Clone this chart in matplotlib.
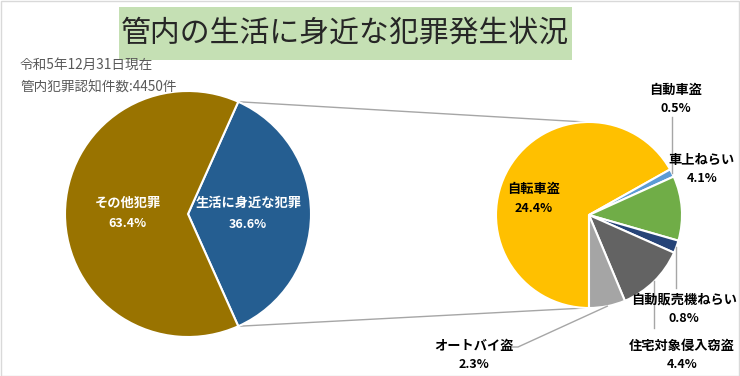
import matplotlib.pyplot as plt
from matplotlib.patches import Rectangle
import numpy as np

plt.rcParams['font.family'] = ['Noto Sans CJK JP', 'DejaVu Sans']

main_labels = ['生活に身近な犯罪', 'その他犯罪']
main_values = [36.6, 63.4]
main_colors = ['#255E91', '#997300']

sub_labels = ['自転車盗', '自動車盗', '車上ねらい', '自動販売機ねらい', '住宅対象侵入窃盗', 'オートバイ盗']
sub_values = [24.4, 0.5, 4.1, 0.8, 4.4, 2.3]
sub_colors = ['#FFC000', '#5B9BD5', '#70AD47', '#264478', '#636363', '#A5A5A5']

title = '管内の生活に身近な犯罪発生状況'
note1 = '令和5年12月31日現在'
note2 = '管内犯罪認知件数:4450件'

W, H = 740, 376
fig = plt.figure(figsize=(W / 100, H / 100), dpi=100)
ax = fig.add_axes([0, 0, 1, 1])


def Y(py):
    # pixel row -> data y (y upward)
    return H - py


c1 = (188, Y(214))
r1 = 123
c2 = (589, Y(215))
r2 = 93
wp = dict(edgecolor='white', linewidth=1.5)

# left pie, "生活に身近な犯罪" centred on the right side
half = main_values[0] / sum(main_values) * 360 / 2
w1, _ = ax.pie(main_values, colors=main_colors, startangle=half, counterclock=False,
               center=c1, radius=r1, wedgeprops=wp)
# right pie
w2, _ = ax.pie(sub_values, colors=sub_colors, startangle=270, counterclock=False,
               center=c2, radius=r2, wedgeprops=wp)

# connecting lines
for ang, ty in [(half, c2[1] + r2), (-half, c2[1] - r2)]:
    a = np.deg2rad(ang)
    ax.plot([c1[0] + r1 * np.cos(a), c2[0] - 4], [c1[1] + r1 * np.sin(a), ty],
            color='#A6A6A6', lw=1, zorder=0)

# left pie labels
for w, lab, v in zip(w1, main_labels, main_values):
    a = np.deg2rad((w.theta1 + w.theta2) / 2)
    x = c1[0] + 0.49 * r1 * np.cos(a)
    y = c1[1] + 0.49 * r1 * np.sin(a)
    ax.text(x, y + 11, lab, color='white', fontsize=9.5, fontweight='bold', ha='center', va='center')
    ax.text(x, y - 10, f'{v:.1f}%', color='white', fontsize=9, fontweight='bold', ha='center', va='center')

# right pie labels (label centre in pixels)
label_pos = {
    '自転車盗': (534, 189),
    '自動車盗': (676, 90),
    '車上ねらい': (702, 160),
    '自動販売機ねらい': (684, 300),
    '住宅対象侵入窃盗': (682, 346),
    'オートバイ盗': (474, 346),
}
for lab, v in zip(sub_labels, sub_values):
    px, py = label_pos[lab]
    ax.text(px, Y(py), lab, fontsize=9.5, fontweight='bold', ha='center', va='center', color='black')
    ax.text(px, Y(py + 19), f'{v:.1f}%', fontsize=9, fontweight='bold', ha='center', va='center', color='black')


def rim(i):
    w = w2[i]
    a = np.deg2rad((w.theta1 + w.theta2) / 2)
    return c2[0] + r2 * np.cos(a), c2[1] + r2 * np.sin(a)


lc = dict(color='#A6A6A6', lw=1)
x, y = rim(1)
ax.plot([x, x], [y, Y(117)], **lc)
x, y = rim(3)
ax.plot([x, x], [y, Y(288)], **lc)
x, y = rim(4)
ax.plot([x, x], [y, Y(328)], **lc)
x, y = rim(5)
ax.plot([x, 518, 512], [y, Y(347), Y(347)], **lc)

# title box
ax.add_patch(Rectangle((119, Y(60)), 453, 53, facecolor='#C5E0B4', edgecolor='none'))
ax.text(345, Y(33), title, fontsize=21.5, ha='center', va='center', color='#262626')

ax.text(20, Y(65), note1, fontsize=9.8, ha='left', va='center', color='#595959')
ax.text(20, Y(88), note2, fontsize=9.8, ha='left', va='center', color='#595959')

# outer frame
ax.add_patch(Rectangle((0.5, 0.5), W - 1.5, H - 1.5, facecolor='none', edgecolor='#D9D9D9', lw=1))

ax.set_xlim(0, W)
ax.set_ylim(0, H)
ax.set_aspect('equal')
ax.axis('off')

fig.savefig('out.png', dpi=100)
